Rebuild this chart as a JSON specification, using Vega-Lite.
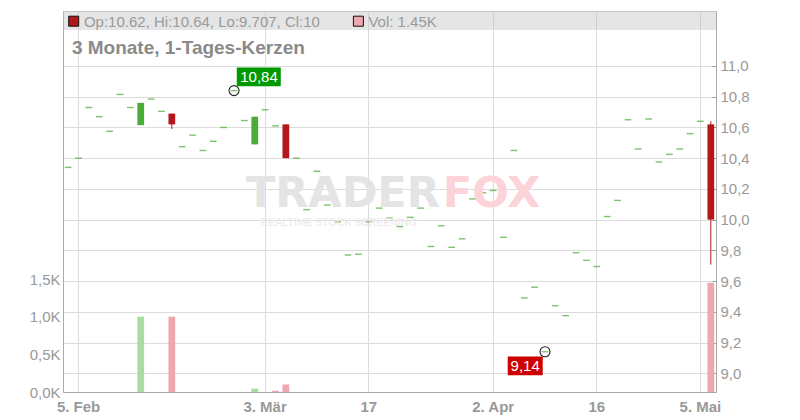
{
"$schema": "https://vega.github.io/schema/vega-lite/v6.json",
"width": 653,
"height": 381,
"autosize": {"type": "none"},
"padding": {"left": 63, "top": 11, "right": 84, "bottom": 28},
"background": "#ffffff",
"config": {"font": "Liberation Sans", "view": {"stroke": "#cccccc"}},
"datasets": {
"ohlc": [
{"d":"2025-02-04","o":10.34,"h":10.34,"l":10.34,"c":10.34,"v":0,"vd":"up"},
{"d":"2025-02-05","o":10.40,"h":10.40,"l":10.40,"c":10.40,"v":0,"vd":"up"},
{"d":"2025-02-06","o":10.73,"h":10.73,"l":10.73,"c":10.73,"v":0,"vd":"up"},
{"d":"2025-02-07","o":10.67,"h":10.67,"l":10.67,"c":10.67,"v":0,"vd":"up"},
{"d":"2025-02-10","o":10.575,"h":10.575,"l":10.575,"c":10.575,"v":0,"vd":"up"},
{"d":"2025-02-11","o":10.815,"h":10.815,"l":10.815,"c":10.815,"v":0,"vd":"up"},
{"d":"2025-02-12","o":10.73,"h":10.73,"l":10.73,"c":10.73,"v":0,"vd":"up"},
{"d":"2025-02-13","o":10.615,"h":10.76,"l":10.615,"c":10.76,"v":1000,"vd":"up"},
{"d":"2025-02-14","o":10.785,"h":10.785,"l":10.785,"c":10.785,"v":0,"vd":"up"},
{"d":"2025-02-17","o":10.705,"h":10.705,"l":10.705,"c":10.705,"v":0,"vd":"up"},
{"d":"2025-02-18","o":10.69,"h":10.69,"l":10.59,"c":10.62,"v":1000,"vd":"down"},
{"d":"2025-02-19","o":10.475,"h":10.475,"l":10.475,"c":10.475,"v":0,"vd":"up"},
{"d":"2025-02-20","o":10.55,"h":10.55,"l":10.55,"c":10.55,"v":0,"vd":"up"},
{"d":"2025-02-21","o":10.45,"h":10.45,"l":10.45,"c":10.45,"v":0,"vd":"up"},
{"d":"2025-02-24","o":10.51,"h":10.51,"l":10.51,"c":10.51,"v":0,"vd":"up"},
{"d":"2025-02-25","o":10.60,"h":10.60,"l":10.60,"c":10.60,"v":0,"vd":"up"},
{"d":"2025-02-26","o":10.84,"h":10.84,"l":10.84,"c":10.84,"v":0,"vd":"up"},
{"d":"2025-02-27","o":10.645,"h":10.645,"l":10.645,"c":10.645,"v":0,"vd":"up"},
{"d":"2025-02-28","o":10.49,"h":10.67,"l":10.49,"c":10.67,"v":45,"vd":"up"},
{"d":"2025-03-03","o":10.715,"h":10.715,"l":10.715,"c":10.715,"v":0,"vd":"up"},
{"d":"2025-03-04","o":10.61,"h":10.61,"l":10.61,"c":10.61,"v":18,"vd":"down"},
{"d":"2025-03-05","o":10.62,"h":10.62,"l":10.40,"c":10.40,"v":100,"vd":"down"},
{"d":"2025-03-06","o":10.40,"h":10.40,"l":10.40,"c":10.40,"v":0,"vd":"up"},
{"d":"2025-03-07","o":10.065,"h":10.065,"l":10.065,"c":10.065,"v":0,"vd":"up"},
{"d":"2025-03-10","o":10.315,"h":10.315,"l":10.315,"c":10.315,"v":0,"vd":"up"},
{"d":"2025-03-11","o":10.095,"h":10.095,"l":10.095,"c":10.095,"v":0,"vd":"up"},
{"d":"2025-03-12","o":9.985,"h":9.985,"l":9.985,"c":9.985,"v":0,"vd":"up"},
{"d":"2025-03-13","o":9.77,"h":9.77,"l":9.77,"c":9.77,"v":0,"vd":"up"},
{"d":"2025-03-14","o":9.775,"h":9.775,"l":9.775,"c":9.775,"v":0,"vd":"up"},
{"d":"2025-03-17","o":9.985,"h":9.985,"l":9.985,"c":9.985,"v":0,"vd":"up"},
{"d":"2025-03-18","o":10.075,"h":10.075,"l":10.075,"c":10.075,"v":0,"vd":"up"},
{"d":"2025-03-19","o":10.01,"h":10.01,"l":10.01,"c":10.01,"v":0,"vd":"up"},
{"d":"2025-03-20","o":9.955,"h":9.955,"l":9.955,"c":9.955,"v":0,"vd":"up"},
{"d":"2025-03-21","o":10.015,"h":10.015,"l":10.015,"c":10.015,"v":0,"vd":"up"},
{"d":"2025-03-24","o":10.075,"h":10.075,"l":10.075,"c":10.075,"v":0,"vd":"up"},
{"d":"2025-03-25","o":9.825,"h":9.825,"l":9.825,"c":9.825,"v":0,"vd":"up"},
{"d":"2025-03-26","o":9.96,"h":9.96,"l":9.96,"c":9.96,"v":0,"vd":"up"},
{"d":"2025-03-27","o":9.82,"h":9.82,"l":9.82,"c":9.82,"v":0,"vd":"up"},
{"d":"2025-03-28","o":9.875,"h":9.875,"l":9.875,"c":9.875,"v":0,"vd":"up"},
{"d":"2025-03-31","o":10.135,"h":10.135,"l":10.135,"c":10.135,"v":0,"vd":"up"},
{"d":"2025-04-01","o":10.175,"h":10.175,"l":10.175,"c":10.175,"v":0,"vd":"up"},
{"d":"2025-04-02","o":10.19,"h":10.19,"l":10.19,"c":10.19,"v":0,"vd":"up"},
{"d":"2025-04-03","o":9.885,"h":9.885,"l":9.885,"c":9.885,"v":0,"vd":"up"},
{"d":"2025-04-04","o":10.45,"h":10.45,"l":10.45,"c":10.45,"v":0,"vd":"up"},
{"d":"2025-04-07","o":9.49,"h":9.49,"l":9.49,"c":9.49,"v":0,"vd":"up"},
{"d":"2025-04-08","o":9.56,"h":9.56,"l":9.56,"c":9.56,"v":0,"vd":"up"},
{"d":"2025-04-09","o":9.14,"h":9.14,"l":9.14,"c":9.14,"v":0,"vd":"up"},
{"d":"2025-04-10","o":9.44,"h":9.44,"l":9.44,"c":9.44,"v":0,"vd":"up"},
{"d":"2025-04-11","o":9.375,"h":9.375,"l":9.375,"c":9.375,"v":0,"vd":"up"},
{"d":"2025-04-14","o":9.785,"h":9.785,"l":9.785,"c":9.785,"v":0,"vd":"up"},
{"d":"2025-04-15","o":9.735,"h":9.735,"l":9.735,"c":9.735,"v":0,"vd":"up"},
{"d":"2025-04-16","o":9.695,"h":9.695,"l":9.695,"c":9.695,"v":0,"vd":"up"},
{"d":"2025-04-17","o":10.02,"h":10.02,"l":10.02,"c":10.02,"v":0,"vd":"up"},
{"d":"2025-04-22","o":10.125,"h":10.125,"l":10.125,"c":10.125,"v":0,"vd":"up"},
{"d":"2025-04-23","o":10.65,"h":10.65,"l":10.65,"c":10.65,"v":0,"vd":"up"},
{"d":"2025-04-24","o":10.46,"h":10.46,"l":10.46,"c":10.46,"v":0,"vd":"up"},
{"d":"2025-04-25","o":10.655,"h":10.655,"l":10.655,"c":10.655,"v":0,"vd":"up"},
{"d":"2025-04-28","o":10.375,"h":10.375,"l":10.375,"c":10.375,"v":0,"vd":"up"},
{"d":"2025-04-29","o":10.425,"h":10.425,"l":10.425,"c":10.425,"v":0,"vd":"up"},
{"d":"2025-04-30","o":10.46,"h":10.46,"l":10.46,"c":10.46,"v":0,"vd":"up"},
{"d":"2025-05-02","o":10.56,"h":10.56,"l":10.56,"c":10.56,"v":0,"vd":"up"},
{"d":"2025-05-05","o":10.64,"h":10.64,"l":10.64,"c":10.64,"v":0,"vd":"up"},
{"d":"2025-05-06","o":10.62,"h":10.64,"l":9.707,"c":10.0,"v":1450,"vd":"down"}
],
"ext": [
{"d":"2025-02-26","p":10.84,"t":"10,84","k":"high"},
{"d":"2025-04-09","p":9.14,"t":"9,14","k":"low"}
]
},
"data": {"name": "ohlc"},
"resolve": {"scale": {"y": "independent"}},
"layer": [
{
"transform": [{"filter": "datum.v > 0"}],
"mark": {"type": "bar", "width": {"band": 0.65}},
"encoding": {
"x": {"field": "d", "type": "ordinal", "title": null, "scale": {"paddingInner": 0, "paddingOuter": 0},
"axis": {"title": null, "values": ["2025-02-05","2025-03-03","2025-03-17","2025-04-02","2025-04-16","2025-05-05"],
"labelExpr": "datum.value == '2025-02-05' ? '5. Feb' : datum.value == '2025-03-03' ? '3. Mär' : datum.value == '2025-03-17' ? '17' : datum.value == '2025-04-02' ? '2. Apr' : datum.value == '2025-04-16' ? '16' : '5. Mai'",
"labelAngle": 0, "labelOverlap": false, "bandPosition": 0.5, "grid": true, "gridColor": "#dcdcdc", "ticks": false, "domainColor": "#aaaaaa",
"labelFontSize": 15, "labelColor": "#999999", "labelPadding": 7,
"labelFontWeight": {"condition": {"test": "length(datum.label) > 2", "value": "bold"}, "value": "normal"}}},
"y": {"field": "v", "type": "quantitative", "title": null, "scale": {"domain": [0, 5060], "nice": false, "zero": true},
"axis": {"orient": "left", "title": null, "values": [0, 500, 1000, 1500], "labelOverlap": false, "tickCount": 20,
"labelExpr": "replace(format(datum.value / 1000, '.1f'), '.', ',') + 'K'",
"grid": false, "ticks": false, "domainColor": "#aaaaaa", "labelFontSize": 15, "labelColor": "#999999", "labelPadding": 3}},
"color": {"condition": {"test": "datum.vd == 'down'", "value": "#efa7af"}, "value": "#a9dca3"}
}
},
{
"layer": [
{
"transform": [{"filter": "datum.o == datum.c"}],
"mark": {"type": "tick", "thickness": 1.4, "size": 6.7, "color": "#44aa30"},
"encoding": {
"x": {"field": "d", "type": "ordinal", "title": null},
"y": {"field": "c", "type": "quantitative", "title": null, "scale": {"domain": [8.878, 11.358], "nice": false, "zero": false},
"axis": {"orient": "right", "title": null, "values": [9, 9.2, 9.4, 9.6, 9.8, 10, 10.2, 10.4, 10.6, 10.8, 11], "labelOverlap": false, "tickCount": 30,
"labelExpr": "replace(format(datum.value, '.1f'), '.', ',')",
"grid": true, "gridColor": "#dcdcdc", "domainColor": "#aaaaaa", "tickColor": "#999999", "tickSize": -4,
"labelPadding": 8, "labelFontSize": 15, "labelColor": "#999999"}}
}
},
{
"data": {"values": [{}]},
"mark": {"type": "rect", "fill": "#bebebe", "opacity": 0.4},
"encoding": {
"y": {"datum": 11.358, "type": "quantitative", "title": null},
"y2": {"datum": 11.234}
}
},
{
"data": {"values": [{"t": "TRADER"}]},
"mark": {"type": "text", "align": "right", "baseline": "alphabetic", "dx": -1.5, "font": "DejaVu Sans", "fontWeight": "bold", "fontSize": 43, "color": "#e4e4e4"},
"encoding": {
"x": {"datum": "2025-03-26", "type": "ordinal", "title": null},
"y": {"datum": 10.082, "type": "quantitative", "title": null},
"text": {"field": "t"}
}
},
{
"data": {"values": [{"t": "FOX"}]},
"mark": {"type": "text", "align": "left", "baseline": "alphabetic", "dx": 1.5, "font": "DejaVu Sans", "fontWeight": "bold", "fontSize": 43, "color": "#fcd3d8"},
"encoding": {
"x": {"datum": "2025-03-26", "type": "ordinal", "title": null},
"y": {"datum": 10.082, "type": "quantitative", "title": null},
"text": {"field": "t"}
}
},
{
"data": {"values": [{"t": "REALTIME STOCK SCREENING"}]},
"mark": {"type": "text", "align": "center", "baseline": "alphabetic", "dx": 1, "fontSize": 10.5, "color": "#e8e8e8"},
"encoding": {
"x": {"datum": "2025-03-12", "type": "ordinal", "title": null},
"y": {"datum": 9.958, "type": "quantitative", "title": null},
"text": {"field": "t"}
}
},
{
"transform": [{"filter": "datum.h != datum.l"}],
"mark": {"type": "rule", "strokeWidth": 1},
"encoding": {
"x": {"field": "d", "type": "ordinal", "title": null},
"y": {"field": "l", "type": "quantitative", "title": null},
"y2": {"field": "h"},
"color": {"condition": {"test": "datum.c < datum.o", "value": "#b3161b"}, "value": "#4aad36"}
}
},
{
"transform": [{"filter": "datum.o != datum.c"}],
"mark": {"type": "bar", "width": {"band": 0.65}},
"encoding": {
"x": {"field": "d", "type": "ordinal", "title": null},
"y": {"field": "o", "type": "quantitative", "title": null},
"y2": {"field": "c"},
"color": {"condition": {"test": "datum.c < datum.o", "value": "#b3161b"}, "value": "#4aad36"}
}
},
{
"data": {"name": "ext"},
"mark": {"type": "point", "shape": "circle", "filled": false, "size": 100, "stroke": "#222222", "strokeWidth": 1.1, "opacity": 1},
"encoding": {
"x": {"field": "d", "type": "ordinal", "title": null},
"y": {"field": "p", "type": "quantitative", "title": null}
}
},
{
"data": {"name": "ext"},
"transform": [{"filter": "datum.k == 'high'"}],
"mark": {"type": "point", "shape": "M0.11,-0.92H1.87V-0.17H0.11Z", "filled": true, "size": 2500, "fill": "#009a00", "strokeWidth": 0, "opacity": 1},
"encoding": {
"x": {"field": "d", "type": "ordinal", "title": null},
"y": {"field": "p", "type": "quantitative", "title": null}
}
},
{
"data": {"name": "ext"},
"transform": [{"filter": "datum.k == 'high'"}],
"mark": {"type": "text", "align": "center", "baseline": "middle", "dx": 25, "dy": -13.5, "fontSize": 15, "color": "#ffffff"},
"encoding": {
"x": {"field": "d", "type": "ordinal", "title": null},
"y": {"field": "p", "type": "quantitative", "title": null},
"text": {"field": "t"}
}
},
{
"data": {"name": "ext"},
"transform": [{"filter": "datum.k == 'low'"}],
"mark": {"type": "point", "shape": "M-1.49,0.19H-0.09V0.94H-1.49Z", "filled": true, "size": 2500, "fill": "#cc0000", "strokeWidth": 0, "opacity": 1},
"encoding": {
"x": {"field": "d", "type": "ordinal", "title": null},
"y": {"field": "p", "type": "quantitative", "title": null}
}
},
{
"data": {"name": "ext"},
"transform": [{"filter": "datum.k == 'low'"}],
"mark": {"type": "text", "align": "center", "baseline": "middle", "dx": -19.8, "dy": 14, "fontSize": 15, "color": "#ffffff"},
"encoding": {
"x": {"field": "d", "type": "ordinal", "title": null},
"y": {"field": "p", "type": "quantitative", "title": null},
"text": {"field": "t"}
}
},
{
"data": {"values": [{}]},
"mark": {"type": "point", "shape": "M0.1,-1H2.1V1H0.1Z", "filled": true, "size": 100, "fill": "#b3161b", "stroke": "#111111", "strokeWidth": 1, "opacity": 1},
"encoding": {
"x": {"datum": "2025-02-04", "type": "ordinal", "title": null},
"y": {"datum": 11.2916, "type": "quantitative", "title": null}
}
},
{
"data": {"values": [{"t": "Op:10.62, Hi:10.64, Lo:9.707, Cl:10"}]},
"mark": {"type": "text", "align": "left", "baseline": "alphabetic", "dx": 5.4, "fontSize": 15, "color": "#9a9a9a"},
"encoding": {
"x": {"datum": "2025-02-05", "type": "ordinal", "title": null},
"y": {"datum": 11.2558, "type": "quantitative", "title": null},
"text": {"field": "t"}
}
},
{
"data": {"values": [{}]},
"mark": {"type": "point", "shape": "M-1,-1H1V1H-1Z", "filled": true, "size": 100, "fill": "#efa7af", "stroke": "#111111", "strokeWidth": 1, "opacity": 1},
"encoding": {
"x": {"datum": "2025-03-14", "type": "ordinal", "title": null},
"y": {"datum": 11.2916, "type": "quantitative", "title": null}
}
},
{
"data": {"values": [{"t": "Vol: 1.45K"}]},
"mark": {"type": "text", "align": "left", "baseline": "alphabetic", "dx": 10, "fontSize": 15, "color": "#9a9a9a"},
"encoding": {
"x": {"datum": "2025-03-14", "type": "ordinal", "title": null},
"y": {"datum": 11.2558, "type": "quantitative", "title": null},
"text": {"field": "t"}
}
},
{
"data": {"values": [{"t": "3 Monate, 1-Tages-Kerzen"}]},
"mark": {"type": "text", "align": "left", "baseline": "alphabetic", "dx": 3.7, "fontSize": 19, "fontWeight": "bold", "color": "#8a8a8a"},
"encoding": {
"x": {"datum": "2025-02-04", "type": "ordinal", "title": null},
"y": {"datum": 11.076, "type": "quantitative", "title": null},
"text": {"field": "t"}
}
}
]
}
]
}
